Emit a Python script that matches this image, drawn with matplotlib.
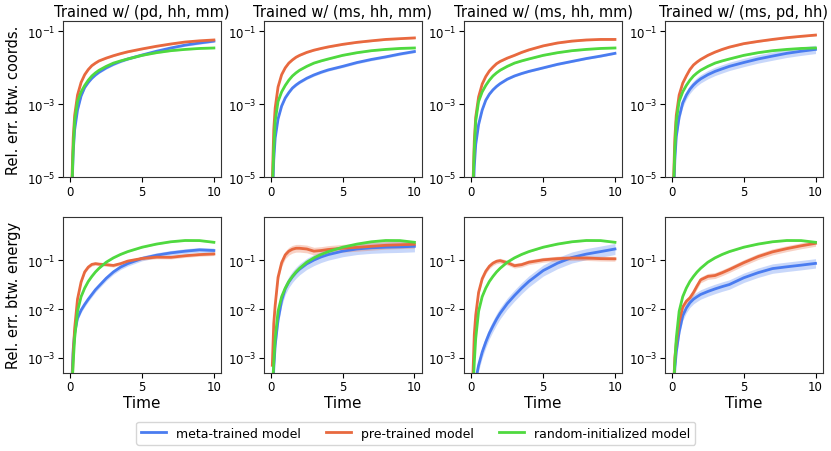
import numpy as np
import matplotlib.pyplot as plt
from matplotlib.ticker import FixedLocator, NullLocator

# time grid shared by every curve
t = [0.1, 0.2, 0.3, 0.5, 0.75, 1.0, 1.25, 1.5, 1.75, 2.0,
     2.5, 3.0, 3.5, 4.0, 5.0, 6.0, 7.0, 8.0, 9.0, 10.0]

titles = ["Trained w/ (pd, hh, mm)", "Trained w/ (ms, hh, mm)",
          "Trained w/ (ms, hh, mm)", "Trained w/ (ms, pd, hh)"]
labels = ["meta-trained model", "pre-trained model", "random-initialized model"]

# ---- relative error between coordinates (top row) ----
coord_random = [4e-6, 6e-5, 3.5e-4, 1.2e-3, 2.2e-3, 3.3e-3, 4.6e-3, 6.0e-3, 7.3e-3, 8.6e-3,
                1.1e-2, 1.35e-2, 1.55e-2, 1.75e-2, 2.2e-2, 2.6e-2, 2.95e-2, 3.2e-2, 3.4e-2, 3.5e-2]

coord_meta_1 = [3e-6, 5e-5, 2e-4, 7e-4, 1.7e-3, 2.9e-3, 4.0e-3, 5.2e-3, 6.4e-3, 7.6e-3,
                1.0e-2, 1.25e-2, 1.5e-2, 1.75e-2, 2.25e-2, 2.85e-2, 3.5e-2, 4.2e-2, 4.8e-2, 5.4e-2]
coord_pre_1 = [6e-6, 1.2e-4, 5e-4, 1.8e-3, 4e-3, 6.5e-3, 9e-3, 1.15e-2, 1.35e-2, 1.55e-2,
               1.85e-2, 2.15e-2, 2.45e-2, 2.75e-2, 3.3e-2, 3.9e-2, 4.5e-2, 5.1e-2, 5.5e-2, 5.8e-2]

coord_meta_2 = [2e-6, 3e-5, 1.2e-4, 4e-4, 9e-4, 1.5e-3, 2.1e-3, 2.8e-3, 3.4e-3, 4.0e-3,
                5.2e-3, 6.4e-3, 7.6e-3, 8.8e-3, 1.1e-2, 1.4e-2, 1.7e-2, 2.0e-2, 2.4e-2, 2.8e-2]
coord_pre_2 = [8e-6, 2e-4, 8e-4, 3e-3, 6.5e-3, 1.0e-2, 1.35e-2, 1.65e-2, 1.95e-2, 2.2e-2,
               2.65e-2, 3.05e-2, 3.4e-2, 3.75e-2, 4.4e-2, 5.0e-2, 5.5e-2, 6.0e-2, 6.3e-2, 6.6e-2]

coord_meta_3 = [1.5e-6, 2e-5, 8e-5, 2.8e-4, 7e-4, 1.3e-3, 1.9e-3, 2.5e-3, 3.1e-3, 3.7e-3,
                4.9e-3, 6.0e-3, 7.0e-3, 8.0e-3, 1.0e-2, 1.25e-2, 1.5e-2, 1.8e-2, 2.1e-2, 2.5e-2]
coord_pre_3 = [5e-6, 1e-4, 4.5e-4, 1.6e-3, 3.6e-3, 5.8e-3, 8.2e-3, 1.05e-2, 1.3e-2, 1.5e-2,
               1.85e-2, 2.2e-2, 2.65e-2, 3.1e-2, 4.0e-2, 4.8e-2, 5.4e-2, 5.8e-2, 6.0e-2, 6.0e-2]

coord_meta_4 = [2e-6, 3e-5, 1.3e-4, 4.5e-4, 1.1e-3, 1.8e-3, 2.6e-3, 3.4e-3, 4.2e-3, 5.0e-3,
                6.5e-3, 8.0e-3, 9.4e-3, 1.1e-2, 1.4e-2, 1.75e-2, 2.1e-2, 2.5e-2, 2.85e-2, 3.2e-2]
coord_pre_4 = [6e-6, 1.2e-4, 5e-4, 1.8e-3, 3.8e-3, 6e-3, 9e-3, 1.2e-2, 1.45e-2, 1.7e-2,
               2.2e-2, 2.7e-2, 3.2e-2, 3.7e-2, 4.6e-2, 5.3e-2, 6.0e-2, 6.7e-2, 7.3e-2, 7.9e-2]

# ---- relative error between energies (bottom row) ----
energy_random = [2e-4, 8e-4, 2.5e-3, 9e-3, 1.8e-2, 2.7e-2, 3.7e-2, 4.7e-2, 5.8e-2, 6.9e-2,
                 9.2e-2, 1.13e-1, 1.33e-1, 1.52e-1, 1.87e-1, 2.17e-1, 2.42e-1, 2.57e-1, 2.56e-1, 2.36e-1]

energy_meta_1 = [3e-4, 1.5e-3, 3.2e-3, 6.5e-3, 9.5e-3, 1.25e-2, 1.6e-2, 2.0e-2, 2.5e-2, 3.0e-2,
                 4.3e-2, 5.8e-2, 7.3e-2, 8.6e-2, 1.1e-1, 1.28e-1, 1.43e-1, 1.55e-1, 1.65e-1, 1.6e-1]
energy_pre_1 = [1.5e-4, 1.2e-3, 4e-3, 1.6e-2, 3.6e-2, 5.8e-2, 7.3e-2, 8.3e-2, 8.6e-2, 8.4e-2,
                8.2e-2, 7.9e-2, 8.6e-2, 9.7e-2, 1.1e-1, 1.17e-1, 1.16e-1, 1.25e-1, 1.32e-1, 1.36e-1]

energy_meta_2 = [1e-4, 6e-4, 1.8e-3, 6e-3, 1.5e-2, 2.6e-2, 3.6e-2, 4.6e-2, 5.6e-2, 6.6e-2,
                 8.5e-2, 1.02e-1, 1.18e-1, 1.32e-1, 1.55e-1, 1.72e-1, 1.82e-1, 1.87e-1, 1.9e-1, 1.95e-1]
energy_pre_2 = [7e-4, 5e-3, 1.2e-2, 4.5e-2, 9e-2, 1.3e-1, 1.55e-1, 1.7e-1, 1.78e-1, 1.78e-1,
                1.72e-1, 1.55e-1, 1.6e-1, 1.68e-1, 1.78e-1, 1.86e-1, 1.95e-1, 2.05e-1, 2.1e-1, 2.15e-1]

energy_meta_3 = [5e-5, 1.2e-4, 3.5e-4, 7e-4, 1.3e-3, 2.1e-3, 3.2e-3, 4.5e-3, 6.2e-3, 8.2e-3,
                 1.3e-2, 1.9e-2, 2.7e-2, 3.7e-2, 6.2e-2, 8.8e-2, 1.15e-1, 1.35e-1, 1.52e-1, 1.72e-1]
energy_pre_3 = [4e-4, 3e-3, 7.5e-3, 2.2e-2, 4.2e-2, 6.0e-2, 7.6e-2, 8.8e-2, 9.6e-2, 9.9e-2,
                9.0e-2, 7.8e-2, 8.2e-2, 9.2e-2, 1.03e-1, 1.09e-1, 1.12e-1, 1.12e-1, 1.09e-1, 1.08e-1]

energy_meta_4 = [1.5e-4, 6e-4, 1.3e-3, 3.4e-3, 7.3e-3, 1.05e-2, 1.35e-2, 1.6e-2, 1.8e-2, 2.0e-2,
                 2.3e-2, 2.6e-2, 2.9e-2, 3.2e-2, 4.4e-2, 5.6e-2, 6.8e-2, 7.4e-2, 8.0e-2, 8.7e-2]
energy_pre_4 = [2e-4, 1e-3, 2e-3, 5.5e-3, 1.1e-2, 1.45e-2, 1.7e-2, 2.2e-2, 3.0e-2, 4.0e-2,
                4.7e-2, 4.9e-2, 5.6e-2, 6.5e-2, 9.0e-2, 1.2e-1, 1.5e-1, 1.75e-1, 2.0e-1, 2.25e-1]

# multiplicative half-width of the shaded bands, per panel: (meta, pre, random)
coord_spread = [(1.08, 1.05, 1.04), (1.08, 1.05, 1.04), (1.06, 1.05, 1.04), (1.3, 1.05, 1.04)]
energy_spread = [(1.12, 1.08, 1.03), (1.3, 1.2, 1.03), (1.3, 1.12, 1.03), (1.25, 1.15, 1.03)]

coord_rows = [(coord_meta_1, coord_pre_1), (coord_meta_2, coord_pre_2),
              (coord_meta_3, coord_pre_3), (coord_meta_4, coord_pre_4)]
energy_rows = [(energy_meta_1, energy_pre_1), (energy_meta_2, energy_pre_2),
               (energy_meta_3, energy_pre_3), (energy_meta_4, energy_pre_4)]

colors = ["#4a7cf0", "#e8693f", "#4fd93f"]

plt.rcParams["axes.edgecolor"] = "#333333"
fig, axes = plt.subplots(2, 4, figsize=(8.31, 4.52), dpi=100)
fig.subplots_adjust(left=0.076, right=0.990, top=0.951, bottom=0.173,
                    wspace=0.27, hspace=0.25)

tt = np.array(t)


def draw(ax, series, spreads):
    handles = []
    for y, c, s in zip(series, colors, spreads):
        y = np.array(y)
        ax.fill_between(tt, y / s, y * s, color=c, alpha=0.3, linewidth=0)
        h, = ax.plot(tt, y, color=c, linewidth=2)
        handles.append(h)
    return handles


for i in range(4):
    ax = axes[0, i]
    meta, pre = coord_rows[i]
    handles = draw(ax, [meta, pre, coord_random], coord_spread[i])
    ax.set_yscale("log")
    ax.set_ylim(1e-5, 0.19)
    ax.yaxis.set_major_locator(FixedLocator([1e-5, 1e-3, 1e-1]))
    ax.yaxis.set_minor_locator(NullLocator())
    ax.set_title(titles[i], fontsize=10.5, pad=4)

    ax = axes[1, i]
    meta, pre = energy_rows[i]
    draw(ax, [meta, pre, energy_random], energy_spread[i])
    ax.set_yscale("log")
    ax.set_ylim(4.9e-4, 0.8)
    ax.yaxis.set_major_locator(FixedLocator([1e-3, 1e-2, 1e-1]))
    ax.yaxis.set_minor_locator(NullLocator())
    ax.set_xlabel("Time", fontsize=11, labelpad=1)

for ax in axes.flat:
    ax.set_xlim(-0.5, 10.5)
    ax.set_xticks([0, 5, 10])
    ax.tick_params(labelsize=8.5, pad=2)

axes[0, 0].set_ylabel("Rel. err. btw. coords.", fontsize=10.5)
axes[1, 0].set_ylabel("Rel. err. btw. energy", fontsize=10.5)

fig.legend(handles, labels, loc="lower center", bbox_to_anchor=(0.5, 0.0),
           ncol=3, fontsize=9)

fig.savefig("out.png", dpi=100)
